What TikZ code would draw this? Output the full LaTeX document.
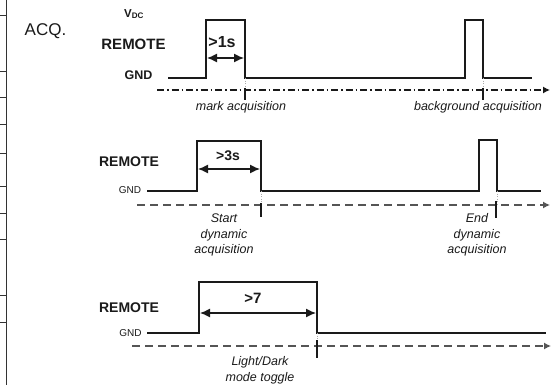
\documentclass[tikz,border=0pt]{standalone}
\usepackage{fontspec}
\setmainfont{Liberation Sans}
\usetikzlibrary{arrows.meta}
\definecolor{ink}{HTML}{1A1A1A}
\definecolor{dashgray}{HTML}{555555}
\definecolor{dotgray}{HTML}{AAAAAA}
\definecolor{frame}{HTML}{333333}
\tikzset{
  sig/.style={draw=ink, line width=2.3pt, line join=miter},
  dur/.style={draw=ink, line width=1.3pt, {Latex[length=10pt,width=9pt]}-{Latex[length=10pt,width=9pt]}},
  axisdd/.style={draw=ink, line width=1.2pt, dash pattern=on 7pt off 3pt on 1.5pt off 3pt, -{Latex[length=7pt,width=7pt]}},
  axisd/.style={draw=dashgray, line width=1.2pt, dash pattern=on 8pt off 5pt, -{Latex[length=7pt,width=7pt]}},
  evtick/.style={draw=ink, line width=1.6pt},
  guide/.style={draw=dotgray, line width=0.6pt, dotted},
  lbl/.style={inner sep=0pt, text=ink},
  big/.style={lbl, font=\bfseries\fontsize{15}{18}\selectfont},
  mid/.style={lbl, font=\bfseries\fontsize{14}{17}\selectfont},
  gndb/.style={lbl, font=\bfseries\fontsize{12.5}{15}\selectfont},
  gnds/.style={lbl, font=\fontsize{10}{12}\selectfont},
  note/.style={lbl, font=\itshape\fontsize{12.5}{15.5}\selectfont, align=center},
  framel/.style={draw=frame, line width=1pt}
}
\begin{document}
\begin{tikzpicture}[x=1pt, y=-1pt]
\useasboundingbox (0,0) rectangle (551,385);
% left frame
\draw[framel] (6.5,0) -- (6.5,385);
\foreach \yy in {16,72,98,125,153,186,213,239,295,322}{
  \draw[framel] (0,\yy) -- (6.5,\yy);
}
\node[lbl, font=\fontsize{17}{20}\selectfont, anchor=center] (acq) at (45.5,31) {ACQ.};

% ---------- top panel ----------
\node[lbl, font=\bfseries\fontsize{11.5}{13}\selectfont] (vdc) at (134,14) {V\textsubscript{DC}};
\node[big] (remA) at (133.5,44.5) {REMOTE};
\node[gndb] (gndA) at (138.5,75) {GND};
\coordinate (a0) at (168,78);
\coordinate (a1) at (206,78);
\coordinate (a2) at (206,20);
\coordinate (a3) at (245,20);
\coordinate (a4) at (245,78);
\coordinate (a5) at (465,78);
\coordinate (a6) at (465,20);
\coordinate (a7) at (483,20);
\coordinate (a8) at (483,78);
\coordinate (a9) at (532,78);
\draw[sig] (a0) -- (a1) -- (a2) -- (a3) -- (a4) -- (a5) -- (a6) -- (a7) -- (a8) -- (a9);
\coordinate (da1) at (207,58);
\coordinate (da2) at (244,58);
\draw[dur] (da1) -- (da2);
\node[lbl, font=\bfseries\fontsize{16}{19}\selectfont] (t1) at (222,42) {>1s};
\coordinate (axA0) at (157,90);
\coordinate (axA1) at (550,90);
\draw[axisdd] (axA0) -- (axA1);
\coordinate (ga1) at (245,90);
\coordinate (ga2) at (483,90);
\draw[guide] (a4) -- (ga1);
\draw[guide] (a8) -- (ga2);
\coordinate (ta1) at (245,88);
\coordinate (ta2) at (245,100);
\coordinate (ta3) at (483,88);
\coordinate (ta4) at (483,100);
\draw[evtick] (ta1) -- (ta2);
\draw[evtick] (ta3) -- (ta4);
\node[note, anchor=base] (mark) at (241,111) {mark acquisition};
\node[note, anchor=base] (bg) at (478,111) {background acquisition};

% ---------- middle panel ----------
\node[mid] (remB) at (129,162) {REMOTE};
\node[gnds] (gndB) at (130,190.5) {GND};
\coordinate (b0) at (147,191);
\coordinate (b1) at (197,191);
\coordinate (b2) at (197,141);
\coordinate (b3) at (261,141);
\coordinate (b4) at (261,191);
\coordinate (b5) at (479,191);
\coordinate (b6) at (479,140);
\coordinate (b7) at (497,140);
\coordinate (b8) at (497,191);
\coordinate (b9) at (541,191);
\draw[sig] (b0) -- (b1) -- (b2) -- (b3) -- (b4) -- (b5) -- (b6) -- (b7) -- (b8) -- (b9);
\coordinate (db1) at (198,169);
\coordinate (db2) at (260,169);
\draw[dur] (db1) -- (db2);
\node[lbl, font=\bfseries\fontsize{14}{17}\selectfont] (t3) at (228,156) {>3s};
\coordinate (axB0) at (137,205);
\coordinate (axB1) at (550,205);
\draw[axisd] (axB0) -- (axB1);
\coordinate (gb1) at (261,205);
\coordinate (gb2) at (497,205);
\draw[guide] (b4) -- (gb1);
\draw[guide] (b8) -- (gb2);
\coordinate (tb1) at (261,203);
\coordinate (tb2) at (261,217);
\coordinate (tb3) at (496,201);
\coordinate (tb4) at (496,218);
\draw[evtick] (tb1) -- (tb2);
\draw[evtick] (tb3) -- (tb4);
\node[note, anchor=base] (start) at (224,253.5) {Start\\dynamic\\acquisition};
\node[note, anchor=base] (end) at (477,253.5) {End\\dynamic\\acquisition};

% ---------- bottom panel ----------
\node[mid] (remC) at (129,307.5) {REMOTE};
\node[gnds] (gndC) at (130.5,333.5) {GND};
\coordinate (c0) at (147,333);
\coordinate (c1) at (199,333);
\coordinate (c2) at (199,282);
\coordinate (c3) at (317,282);
\coordinate (c4) at (317,333);
\coordinate (c5) at (546,333);
\draw[sig] (c0) -- (c1) -- (c2) -- (c3) -- (c4) -- (c5);
\coordinate (dc1) at (200,313);
\coordinate (dc2) at (316,313);
\draw[dur] (dc1) -- (dc2);
\node[lbl, font=\bfseries\fontsize{15}{18}\selectfont] (t7) at (253,298) {>7};
\coordinate (axC0) at (132,346);
\coordinate (axC1) at (551,346);
\draw[axisd] (axC0) -- (axC1);
\coordinate (gc1) at (317,346);
\draw[guide] (c4) -- (gc1);
\coordinate (tc1) at (317,340);
\coordinate (tc2) at (317,358);
\draw[evtick] (tc1) -- (tc2);
\node[note, anchor=base] (toggle) at (260,381) {Light/Dark\\mode toggle};
\end{tikzpicture}
\end{document}
